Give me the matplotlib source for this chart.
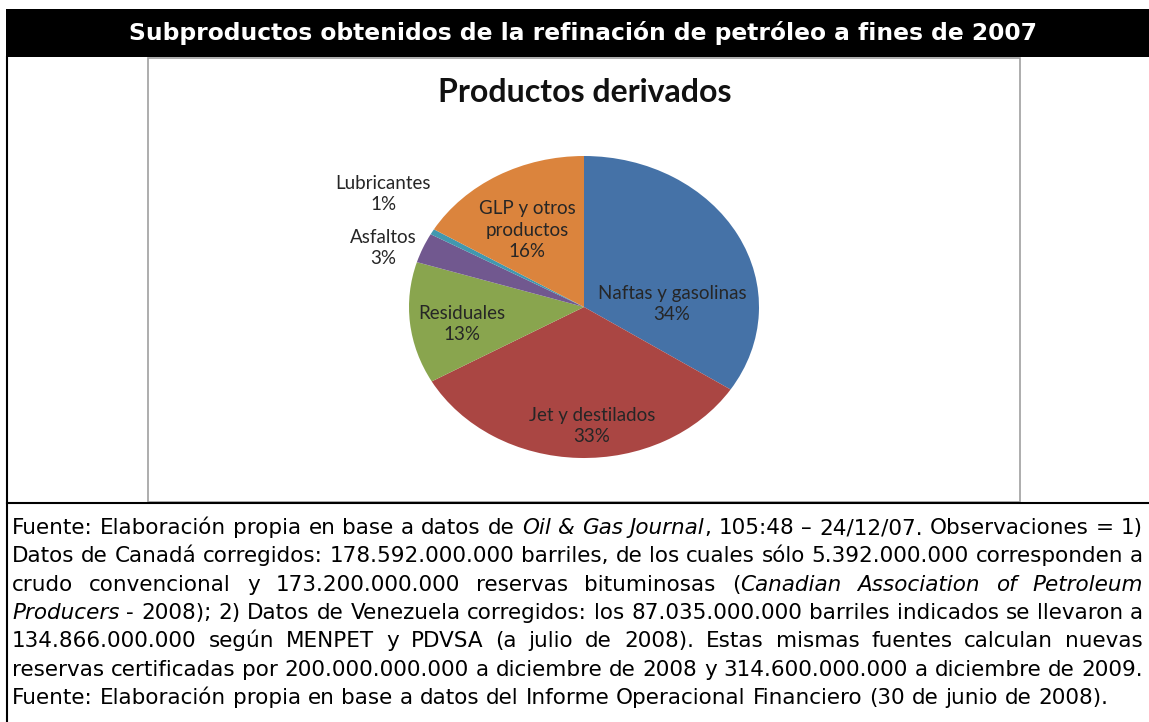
import matplotlib
matplotlib.use("Agg")
import matplotlib.pyplot as plt
from matplotlib.patches import Rectangle
from matplotlib.lines import Line2D

W, H = 1149, 722

# ---- data ----
categories = ["Naftas y gasolinas", "Jet y destilados", "Residuales",
              "Asfaltos", "Lubricantes", "GLP y otros\nproductos"]
shares = [34.2, 32.6, 13.0, 3.2, 0.6, 16.4]
colors = ["#4572A7", "#AA4643", "#89A54E", "#71588F", "#4198AF", "#DB843D"]

header = "Subproductos obtenidos de la refinación de petróleo a fines de 2007"
chart_title = "Productos derivados"

# footer text, *...* marks italics; last line is not justified
footer = [
    "Fuente: Elaboración propia en base a datos de *Oil & Gas Journal*, 105:48 – 24/12/07. Observaciones = 1)",
    "Datos de Canadá corregidos: 178.592.000.000 barriles, de los cuales sólo 5.392.000.000 corresponden a",
    "crudo convencional y 173.200.000.000 reservas bituminosas (*Canadian Association of Petroleum*",
    "*Producers* - 2008); 2) Datos de Venezuela corregidos: los 87.035.000.000 barriles indicados se llevaron a",
    "134.866.000.000 según MENPET y PDVSA (a julio de 2008). Estas mismas fuentes calculan nuevas",
    "reservas certificadas por 200.000.000.000 a diciembre de 2008 y 314.600.000.000 a diciembre de 2009.",
    "Fuente: Elaboración propia en base a datos del Informe Operacional Financiero (30 de junio de 2008).",
]

# label centres in pixels (x, y)
label_pos = [(672, 304), (592, 426), (462, 324), (383, 248), (383, 194), (527, 230)]


def fx(x):
    return x / W


def fy(y):
    return 1 - y / H


fig = plt.figure(figsize=(W / 100, H / 100), dpi=100)
fig.patch.set_facecolor("white")
renderer = fig.canvas.get_renderer()


def text_width(s, **kw):
    t = fig.text(0, 0, s, **kw)
    w = t.get_window_extent(renderer).width
    t.remove()
    return w


# header bar
fig.patches.append(Rectangle((fx(6), fy(57)), fx(W) - fx(6), fy(9) - fy(57),
                             transform=fig.transFigure, facecolor="black",
                             edgecolor="none", zorder=1))
hsize = 10 * 909 / text_width(header, fontsize=10, fontweight="bold", family="DejaVu Sans")
fig.text(fx(583), fy(33), header, color="white", fontsize=hsize, fontweight="bold",
         family="DejaVu Sans", ha="center", va="center", zorder=2)

# table lines
fig.lines.append(Line2D([fx(7), fx(7)], [fy(57), fy(H)], transform=fig.transFigure,
                        color="black", lw=1.5))
fig.lines.append(Line2D([fx(7), fx(W)], [fy(503), fy(503)], transform=fig.transFigure,
                        color="black", lw=1.5))

# chart frame
fig.patches.append(Rectangle((fx(148), fy(502)), fx(1020) - fx(148), fy(58) - fy(502),
                             transform=fig.transFigure, facecolor="white",
                             edgecolor="#a0a0a0", lw=1.2, zorder=-1))

fig.text(fx(585), fy(93), chart_title, fontsize=23, fontweight="bold", family="Lato",
         ha="center", va="center", color="#111111")

# pie (ellipse, since the original image is stretched horizontally)
cx, cy, rx, ry = 584, 307, 175, 151
ax = fig.add_axes([fx(cx - rx), fy(cy + ry), 2 * rx / W, 2 * ry / H], zorder=1)
ax.pie(shares, colors=colors, startangle=90, counterclock=False,
       wedgeprops=dict(linewidth=0), radius=1)
ax.set_aspect("auto")
ax.set_xlim(-1, 1)
ax.set_ylim(-1, 1)
ax.axis("off")

for name, v, (x, y) in zip(categories, shares, label_pos):
    fig.text(fx(x), fy(y), f"{name}\n{v:.0f}%", fontsize=13.5, family="Lato",
             ha="center", va="center", color="#262626", linespacing=1.35,
             multialignment="center", zorder=3)


# footer, justified
def parse(line):
    chars = []
    italic = False
    for ch in line:
        if ch == "*":
            italic = not italic
        else:
            chars.append((ch, italic))
    words, cur = [], []
    for ch, it in chars:
        if ch == " ":
            if cur:
                words.append(cur)
                cur = []
        else:
            cur.append((ch, it))
    if cur:
        words.append(cur)
    out = []
    for w in words:
        segs = []
        for ch, it in w:
            if segs and segs[-1][1] == it:
                segs[-1][0] += ch
            else:
                segs.append([ch, it])
        out.append(segs)
    return out


fam = "DejaVu Sans"
last = footer[-1]
fsize = 10 * 1093 / text_width(last, fontsize=10, family=fam)
space_w = text_width("a a", fontsize=fsize, family=fam) - text_width("aa", fontsize=fsize, family=fam)

x0, x1 = 12, 1143
base0, step = 534, 28.3
for i, line in enumerate(footer):
    words = parse(line)
    widths = []
    for w in words:
        widths.append([text_width(s, fontsize=fsize, family=fam,
                                  style="italic" if it else "normal") for s, it in w])
    total = sum(sum(ws) for ws in widths)
    if i < len(footer) - 1:
        gap = (x1 - x0 - total) / (len(words) - 1)
    else:
        gap = space_w
    x = x0
    y = base0 + i * step
    for w, ws in zip(words, widths):
        for (s, it), sw in zip(w, ws):
            fig.text(fx(x), fy(y), s, fontsize=fsize, family=fam,
                     style="italic" if it else "normal", ha="left", va="baseline",
                     color="black")
            x += sw
        x += gap

fig.savefig("out.png", dpi=100)
